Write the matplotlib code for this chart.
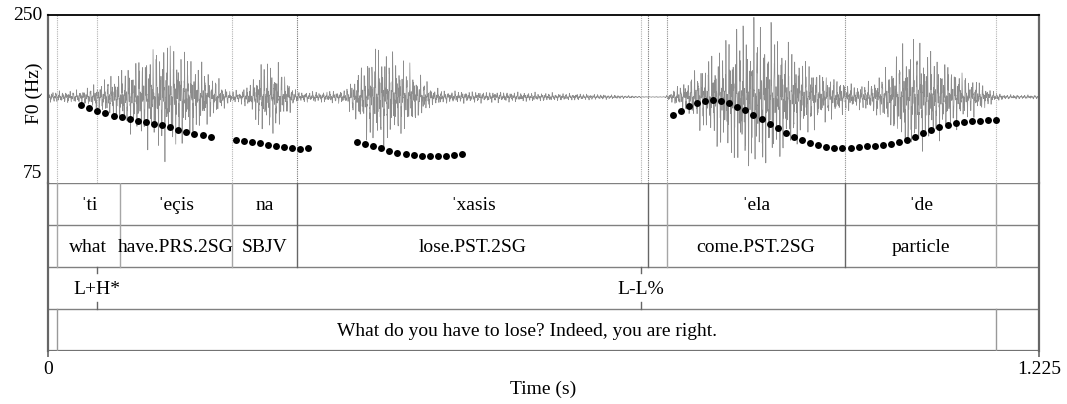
import numpy as np
import matplotlib
matplotlib.use("Agg")
import matplotlib.pyplot as plt
from matplotlib.transforms import blended_transform_factory

plt.rcParams['font.family'] = ['Liberation Serif', 'DejaVu Serif']

# ---------------- data ----------------
t_max = 1.225
f0_min, f0_max = 75, 250

# F0 track (10 ms steps), four voiced stretches
f0_t1 = [0.041, 0.051, 0.061, 0.071, 0.081, 0.091, 0.101, 0.111, 0.121, 0.131,
         0.141, 0.151, 0.161, 0.171, 0.181, 0.191, 0.201]
f0_v1 = [155.9, 153.4, 150.3, 147.6, 145.1, 143.4, 141.7, 139.9, 138.5, 136.8,
         135.1, 133.0, 130.5, 128.4, 126.4, 124.7, 122.6]
f0_t2 = [0.232, 0.242, 0.252, 0.262, 0.272, 0.282, 0.292, 0.302, 0.312, 0.322]
f0_v2 = [119.5, 118.4, 117.4, 116.4, 114.9, 113.5, 112.5, 111.1, 110.7, 111.5]
f0_t3 = [0.382, 0.392, 0.402, 0.412, 0.422, 0.432, 0.442, 0.452, 0.462, 0.472,
         0.482, 0.492, 0.502, 0.512]
f0_v3 = [118.0, 115.9, 113.9, 111.1, 108.3, 106.6, 105.2, 104.2, 103.4, 103.1,
         103.1, 103.4, 104.2, 104.9]
f0_t4 = [0.772, 0.782, 0.792, 0.802, 0.812, 0.822, 0.832, 0.842, 0.852, 0.862,
         0.872, 0.882, 0.892, 0.902, 0.912, 0.922, 0.932, 0.942, 0.952, 0.962,
         0.972, 0.982, 0.992, 1.002, 1.012, 1.022, 1.032, 1.042, 1.052, 1.062,
         1.072, 1.082, 1.092, 1.102, 1.112, 1.122, 1.132, 1.142, 1.152, 1.162,
         1.172]
f0_v4 = [145.8, 150.3, 154.9, 158.3, 160.7, 161.5, 160.7, 158.0, 154.5, 150.7,
         146.1, 142.0, 136.8, 132.0, 127.4, 123.2, 119.5, 116.4, 114.6, 112.8,
         111.5, 111.1, 111.5, 112.5, 113.2, 113.9, 114.6, 115.6, 117.4, 120.1,
         123.2, 126.8, 130.5, 133.3, 135.7, 137.5, 138.2, 139.3, 139.9, 140.6,
         140.9]

# waveform amplitude envelope (relative to half the pitch-panel height)
wave_t = [0.0, 0.040, 0.058, 0.077, 0.095, 0.114, 0.132, 0.145, 0.157, 0.176,
          0.194, 0.210, 0.222, 0.237, 0.252, 0.262, 0.272, 0.284, 0.297, 0.307,
          0.336, 0.367, 0.379, 0.396, 0.410, 0.423, 0.441, 0.460, 0.475, 0.491,
          0.559, 0.633, 0.682, 0.719, 0.738, 0.763, 0.771, 0.788, 0.806, 0.825,
          0.843, 0.862, 0.880, 0.899, 0.917, 0.936, 0.954, 0.979, 0.998, 1.016,
          1.035, 1.053, 1.068, 1.084, 1.103, 1.127, 1.152, 1.171, 1.183, 1.225]
wave_amp = [0.07, 0.09, 0.16, 0.28, 0.40, 0.55, 0.70, 0.80, 0.70, 0.55,
            0.40, 0.24, 0.10, 0.08, 0.20, 0.45, 0.50, 0.45, 0.24, 0.07,
            0.07, 0.09, 0.28, 0.55, 0.72, 0.58, 0.48, 0.28, 0.13, 0.08,
            0.07, 0.05, 0.035, 0.018, 0.006, 0.006, 0.08, 0.22, 0.42, 0.62,
            0.85, 1.0, 1.0, 0.90, 0.70, 0.52, 0.36, 0.24, 0.16, 0.20,
            0.35, 0.62, 0.78, 0.70, 0.52, 0.36, 0.20, 0.06, 0.03, 0.024]

# tier 1: syllables, tier 2: glosses (shared boundaries)
seg_bounds = [0.011, 0.089, 0.227, 0.308, 0.742, 0.765, 0.985, 1.172]
syllables = ["ˈti", "ˈeçis", "na", "ˈxasis", "", "ˈela", "ˈde"]
glosses = ["what", "have.PRS.2SG", "SBJV", "lose.PST.2SG", "", "come.PST.2SG", "particle"]
# tier 3: tones (point tier)
tone_times = [0.061, 0.733]
tone_labels = ["L+H*", "L-L%"]
# tier 4: translation
trans_bounds = [0.011, 1.172]
trans_label = "What do you have to lose? Indeed, you are right."

# boundaries drawn into the F0 panel (time, grey level)
f0_panel_lines = [(0.011, '0.7'), (0.061, '0.7'), (0.227, '0.7'), (0.308, '0.45'),
                  (0.733, '0.7'), (0.742, '0.45'), (0.765, '0.55'), (0.985, '0.55'),
                  (1.172, '0.7')]

# ---------------- figure ----------------
W, H = 1067, 404
fig = plt.figure(figsize=(W / 100, H / 100), dpi=100)

L, R = 48, 1039
top, mid, bot = 15, 183, 351
FS = 14
ax = fig.add_axes([L / W, 1 - mid / H, (R - L) / W, (mid - top) / H])
axw = fig.add_axes([L / W, 1 - mid / H, (R - L) / W, (mid - top) / H], zorder=0)
axt = fig.add_axes([L / W, 1 - bot / H, (R - L) / W, (bot - mid) / H])
ax.set_zorder(2)
ax.patch.set_alpha(0)

# waveform (envelope, drawn with an oscillating trace)
tt = np.linspace(0, t_max, 12000)
env = np.interp(tt, wave_t, wave_amp)
carrier = (np.sin(2 * np.pi * 233 * tt) + 0.8 * np.sin(2 * np.pi * 517 * tt + 0.3)
           + 0.6 * np.sin(2 * np.pi * 1131 * tt + 2.0) + 0.4 * np.sin(2 * np.pi * 1789 * tt + 1.0))
carrier = np.sign(carrier) * np.abs(carrier) ** 1.35
carrier = carrier / np.abs(carrier).max()
axw.plot(tt, env * carrier, color='0.55', lw=0.5)
axw.set_xlim(0, t_max)
axw.set_ylim(-1.0, 0.953)
axw.axis('off')

# F0 panel
ax.set_xlim(0, t_max)
ax.set_ylim(f0_min, f0_max)
for tb, c in f0_panel_lines:
    ax.axvline(tb, color=c, lw=0.8, ls=(0, (1, 1)), zorder=1)
for ts, vs in [(f0_t1, f0_v1), (f0_t2, f0_v2), (f0_t3, f0_v3), (f0_t4, f0_v4)]:
    ax.plot(ts, vs, 'o', color='black', ms=5.0, mec='none', zorder=3)
ax.set_xticks([])
ax.set_yticks([])
for s in ['left', 'right', 'bottom']:
    ax.spines[s].set_visible(False)
ax.spines['top'].set_color('black')
ax.spines['top'].set_linewidth(1.3)

tr = blended_transform_factory(fig.transFigure, ax.transData)
ax.text((L - 6) / W, f0_max, str(f0_max), transform=tr, ha='right', va='center', fontsize=FS)
ax.text((L - 6) / W, f0_min + 9.5, str(f0_min), transform=tr, ha='right', va='center', fontsize=FS)
ax.text(34 / W, 1 - 93 / H, "F0 (Hz)", transform=fig.transFigure, rotation=90,
        ha='center', va='center', fontsize=FS)

# tier panel
axt.set_xlim(0, t_max)
axt.set_ylim(4, 0)
for s in axt.spines.values():
    s.set_visible(False)
for y in [0, 1, 2, 3]:
    axt.axhline(y, color='0.5', lw=1.0)
axt.axhline(4, color='0.45', lw=1.6)

line_col = {0.308: '0.4', 0.742: '0.4', 0.985: '0.4'}
for tb in seg_bounds:
    axt.plot([tb, tb], [0, 2], color=line_col.get(tb, '0.65'), lw=1.0)
for i in range(len(seg_bounds) - 1):
    cx = (seg_bounds[i] + seg_bounds[i + 1]) / 2
    axt.text(cx, 0.5, syllables[i], ha='center', va='center_baseline', fontsize=FS)
    axt.text(cx, 1.5, glosses[i], ha='center', va='center_baseline', fontsize=FS)
for tp, lab in zip(tone_times, tone_labels):
    axt.plot([tp, tp], [2, 2.15], color='0.4', lw=1.0)
    axt.plot([tp, tp], [2.83, 3], color='0.4', lw=1.0)
    axt.text(tp, 2.5, lab, ha='center', va='center_baseline', fontsize=FS)
for tb in trans_bounds:
    axt.plot([tb, tb], [3, 4], color='0.6', lw=1.0)
axt.text(sum(trans_bounds) / 2, 3.5, trans_label, ha='center', va='center_baseline', fontsize=FS)

# frame sides
axt.plot([0, 0], [0, 4], color='0.4', lw=1.6, clip_on=False)
axt.plot([t_max, t_max], [0, 4], color='0.4', lw=1.6, clip_on=False)
ax.plot([0, 0], [f0_min, f0_max], color='0.4', lw=1.6, clip_on=False)
ax.plot([t_max, t_max], [f0_min, f0_max], color='0.4', lw=1.6, clip_on=False)

axt.set_yticks([])
axt.set_xticks([0, t_max])
axt.set_xticklabels(["0", "1.225"], fontsize=FS)
axt.tick_params(axis='x', length=4, width=1.2, color='0.4', pad=3)
axt.set_xlabel("Time (s)", fontsize=FS, labelpad=2)

fig.savefig("out.png", dpi=100)
